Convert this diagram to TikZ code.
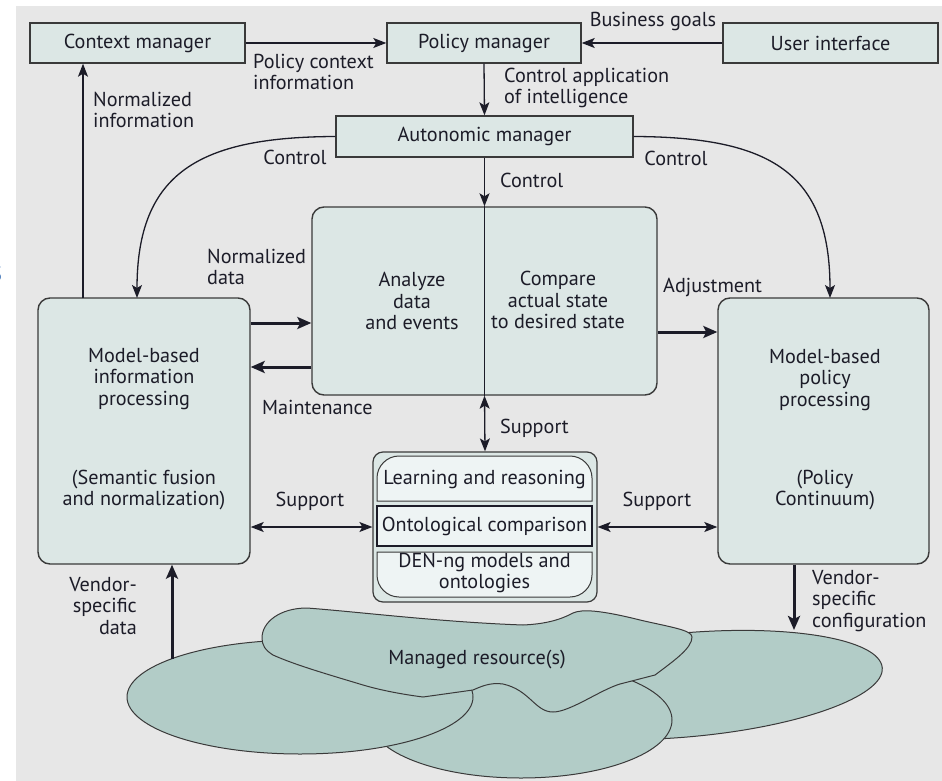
\documentclass[tikz,border=0pt]{standalone}
\usepackage{fontspec}
\setmainfont{PT Sans}
\usetikzlibrary{arrows.meta,calc}
\definecolor{bg}{HTML}{E7E7E7}
\definecolor{boxfill}{HTML}{DCE7E5}
\definecolor{innerfill}{HTML}{EEF4F4}
\definecolor{blob}{HTML}{B2CCC7}
\definecolor{ink}{HTML}{1C1C28}
\definecolor{edge}{HTML}{3A3A3A}
\definecolor{cutblue}{HTML}{2A64B0}

\begin{document}
\begin{tikzpicture}[x={(1pt,0)},y={(0,-1pt)},
  font=\fontsize{20.2}{21.3}\selectfont, text=ink,
  box/.style={draw=edge,line width=1.4pt,fill=boxfill,inner sep=0pt},
  rbox/.style={box,rounded corners=12pt},
  lbl/.style={inner sep=0pt,align=left},
  txt/.style={inner sep=0pt,align=center},
  tip/.tip={Stealth[length=13pt,width=10pt,inset=3pt]},
  bigtip/.tip={Stealth[length=14pt,width=12pt,inset=3pt]},
  conn/.style={draw=ink,line width=1.3pt,-tip},
  both/.style={draw=ink,line width=1.3pt,tip-tip},
  heavy/.style={draw=ink,line width=3pt,-bigtip},
  cloud/.style={draw=edge,line width=1pt,fill=blob}
]
% canvas
\useasboundingbox (0,0) rectangle (942,781);
\fill[white] (0,0) rectangle (942,781);
\fill[bg] (16,6) rectangle (942,781);
\begin{scope}
  \clip (0,240) rectangle (6,300);
  \node[text=cutblue,inner sep=0pt,font=\fontsize{30}{30}\selectfont] (cut) at (-4,274) {s};
\end{scope}

% top row of managers
\node[box,minimum width=215pt,minimum height=40pt] (ctx) at (137.5,43) {Context manager};
\node[box,minimum width=194pt,minimum height=40pt] (pol) at (484,43) {Policy manager};
\node[box,minimum width=215pt,minimum height=40pt] (ui) at (830.5,43) {User interface};
\node[box,minimum width=297pt,minimum height=41pt] (auto) at (484.5,136.5) {Autonomic manager};

% main processing boxes
\node[rbox,minimum width=345pt,minimum height=188pt] (ana) at (484.5,301) {};
\node[rbox,minimum width=212pt,minimum height=266pt] (lbox) at (144,431) {};
\node[rbox,minimum width=211pt,minimum height=266pt] (rbox) at (823.5,431) {};

\node[txt] (anatxt) at (412,301) {Analyze\\data\\and events};
\node[txt] (cmptxt) at (558,300) {Compare\\actual state\\to desired state};
\node[txt] (ltop) at (144,379) {Model-based\\information\\processing};
\node[txt] (lbot) at (144,490) {(Semantic fusion\\and normalization)};
\node[txt] (rtop) at (825,380) {Model-based\\policy\\processing};
\node[txt] (rbot) at (825,490) {(Policy\\Continuum)};

% knowledge stack
\node[draw=edge,line width=1.2pt,fill=boxfill,rounded corners=10pt,
      minimum width=224pt,minimum height=150pt,inner sep=0pt] (kb) at (485,527) {};
\filldraw[draw=edge,line width=1pt,fill=innerfill]
  (377,501) -- (377,478) .. controls (377,466) and (387,456) .. (399,456)
  -- (570,456) .. controls (582,456) and (592,466) .. (592,478) -- (592,501) -- cycle;
\filldraw[draw=edge,line width=1pt,fill=innerfill]
  (377,552) -- (377,575) .. controls (377,587) and (387,597) .. (399,597)
  -- (570,597) .. controls (582,597) and (592,587) .. (592,575) -- (592,552) -- cycle;
\node[draw=ink,line width=1.8pt,fill=innerfill,minimum width=215pt,minimum height=40pt,
      inner sep=0pt] (onto) at (484.5,526) {};
\node[txt] (learn) at (484.5,479) {Learning and reasoning};
\node[txt] (ontotxt) at (484.5,526) {Ontological comparison};
\node[txt] (den) at (484.5,573) {DEN-ng models and\\ontologies};

% managed resources
\draw[cloud] (685,685) ellipse [x radius=198, y radius=52, rotate=5];
\draw[cloud] (521,720) ellipse [x radius=151, y radius=58];
\draw[cloud] (300,697) ellipse [x radius=173, y radius=57];
\draw[cloud] (262,638) .. controls (262,622) and (280,608) .. (307,608)
  .. controls (360,612) and (440,622) .. (523,625)
  .. controls (545,624) and (560,620) .. (573,613)
  .. controls (582,609) and (600,610) .. (640,620)
  .. controls (670,627) and (692,630) .. (692,637)
  .. controls (692,648) and (675,660) .. (655,675)
  -- (620,684)
  .. controls (600,690) and (570,712) .. (553,712)
  .. controls (535,712) and (530,690) .. (503,684)
  .. controls (490,682) and (480,687) .. (473,690)
  -- (423,697)
  .. controls (400,694) and (380,690) .. (363,685)
  .. controls (330,675) and (295,665) .. (273,655)
  .. controls (265,650) and (262,645) .. (262,638) -- cycle;
\node[txt] (res) at (477,660) {Managed resource(s)};

% connectors between managers
\draw[conn] (ctx.east) -- (pol.west);
\draw[conn] (ui.west) -- (pol.east);
\draw[conn] (pol.south) -- (auto.north);
\draw[conn] (auto.south) -- (ana.north);
\draw[draw=ink,line width=1.3pt] (ana.north) -- (ana.south);
\draw[both] (ana.south) -- (kb.north);

\coordinate (cl) at (137,298);
\coordinate (cr) at (830,298);
\draw[conn] (auto.west) .. controls (200,137) and (137,172) .. (cl);
\draw[conn] (auto.east) .. controls (770,137) and (830,172) .. (cr);

\coordinate (up) at (83,298);
\draw[conn] (up) -- (up |- ctx.south);

\coordinate (nd) at (0,323);
\coordinate (mt) at (0,367);
\coordinate (adj) at (0,332);
\coordinate (sp) at (0,527);
\draw[heavy] (lbox.east |- nd) -- (ana.west |- nd);
\draw[heavy] (ana.west |- mt) -- (lbox.east |- mt);
\draw[heavy] (ana.east |- adj) -- (rbox.west |- adj);
\draw[both] (lbox.east |- sp) -- (kb.west |- sp);
\draw[both] (kb.east |- sp) -- (rbox.west |- sp);

\coordinate (vd) at (172,659);
\draw[heavy] (vd) -- (vd |- lbox.south);
\coordinate (vc) at (794,630);
\draw[heavy] (vc |- rbox.south) -- (vc);

% labels
\node[lbl,anchor=west] (l1) at (253,72) {Policy context\\information};
\node[txt] (l2) at (653,21) {Business goals};
\node[lbl,anchor=west] (l3) at (504,88) {Control application\\of intelligence};
\node[lbl,anchor=west] (l4) at (93,110) {Normalized\\information};
\node[txt] (l5) at (295,157) {Control};
\node[txt] (l6) at (676,158) {Control};
\node[lbl,anchor=west] (l7) at (500,180) {Control};
\node[lbl,anchor=west] (l8) at (207,267) {Normalized\\data};
\node[lbl,anchor=west] (l9) at (262,407) {Maintenance};
\node[lbl,anchor=west] (l10) at (663,287) {Adjustment};
\node[lbl,anchor=west] (l11) at (500,428) {Support};
\node[txt] (l12) at (310,501) {Support};
\node[txt] (l13) at (657,501) {Support};
\node[inner sep=0pt,align=right,anchor=east] (l14) at (137,606) {Vendor-\\specific\\data};
\node[lbl,anchor=west] (l15) at (812,601) {Vendor-\\specific\\configuration};
\end{tikzpicture}
\end{document}
